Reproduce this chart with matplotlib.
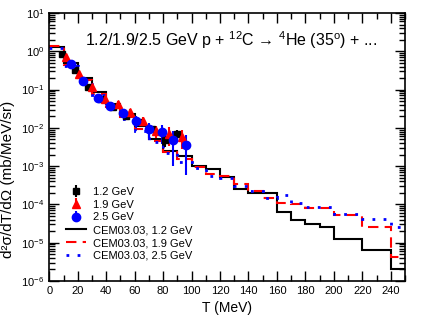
import matplotlib
matplotlib.use('Agg')
import matplotlib.pyplot as plt
from matplotlib.ticker import MultipleLocator, LogLocator, LogFormatterMathtext, NullFormatter

plt.rcParams['font.family'] = ['Liberation Sans', 'DejaVu Sans']
plt.rcParams['mathtext.fontset'] = 'custom'
plt.rcParams['mathtext.rm'] = 'Liberation Sans'
plt.rcParams['mathtext.it'] = 'Liberation Sans:italic'
plt.rcParams['mathtext.bf'] = 'Liberation Sans:bold'

# bordas dos bins do CEM (MeV)
bordas = [0, 10, 20, 30, 40, 50, 60, 70, 80, 90, 100, 110, 120, 130, 140, 150,
          160, 170, 180, 190, 200, 210, 220, 230, 240, 250]

cem_12 = [1.3, 0.5, 0.2, 0.085, 0.042, 0.023, 0.011, 0.005, 0.0025, 0.0018,
          1.03e-3, 8.5e-4, 5.3e-4, 2.6e-4, 2.0e-4, 2.0e-4, 6.5e-5, 4.0e-5, 3.1e-5, 2.5e-5,
          1.25e-5, 1.25e-5, 6.5e-6, 6.5e-6, 2.1e-6]
cem_19 = [1.35, 0.45, 0.18, 0.075, 0.036, 0.019, 0.0095, 0.0045, 0.0024, 0.0015,
          9.3e-4, 6.3e-4, 5.5e-4, 3.5e-4, 2.2e-4, 1.5e-4, 1.07e-4, 1.05e-4, 8.0e-5, 8.0e-5,
          5.3e-5, 5.3e-5, 2.5e-5, 2.5e-5, 4.2e-6]
cem_25 = [1.2, 0.42, 0.16, 0.07, 0.033, 0.017, 0.0085, 0.0042, 0.0022, 0.0013,
          8.9e-4, 5.5e-4, 4.8e-4, 3.0e-4, 2.2e-4, 1.45e-4, 1.8e-4, 1.1e-4, 8.7e-5, 8.7e-5,
          5.6e-5, 5.6e-5, 4.1e-5, 4.1e-5, 2.6e-5]

# dados experimentais
t_12 = [9, 18, 27, 36, 45, 54, 63, 72, 81, 90]
y_12 = [0.83, 0.33, 0.12, 0.055, 0.036, 0.021, 0.0138, 0.0093, 0.0047, 0.0069]
e_12 = [0.08, 0.03, 0.012, 0.006, 0.005, 0.003, 0.0025, 0.002, 0.0015, 0.002]

t_19 = [12, 21, 30, 39, 48, 57, 66, 75, 84, 93]
y_19 = [0.69, 0.26, 0.12, 0.058, 0.042, 0.026, 0.0155, 0.0085, 0.0069, 0.0058]
e_19 = [0.07, 0.026, 0.012, 0.009, 0.007, 0.005, 0.004, 0.003, 0.0035, 0.003]

t_25 = [15, 24, 34, 43, 52, 61, 70, 79, 87, 96]
y_25 = [0.46, 0.17, 0.06, 0.038, 0.0245, 0.015, 0.0094, 0.0078, 0.0047, 0.0035]
e_25 = [0.05, 0.02, 0.008, 0.006, 0.005, 0.005, 0.004, 0.004, 0.0037, 0.0029]

fig = plt.figure(figsize=(4.23, 3.27), dpi=100)
ax = fig.add_axes([0.1165, 0.1407, 0.841, 0.8196])

ax.stairs(cem_12, bordas, baseline=None, color='black', lw=1.5, label='CEM03.03, 1.2 GeV')
ax.stairs(cem_19, bordas, baseline=None, color='red', lw=1.5, linestyle=(0, (5, 3)),
          label='CEM03.03, 1.9 GeV')
ax.stairs(cem_25, bordas, baseline=None, color='blue', lw=2, linestyle=(0, (1, 3)),
          label='CEM03.03, 2.5 GeV')

ax.errorbar(t_12, y_12, yerr=e_12, fmt='s', color='black', ms=5, elinewidth=1.5,
            capsize=0, label='1.2 GeV', zorder=5)
ax.errorbar(t_19, y_19, yerr=e_19, fmt='^', color='red', ms=6, elinewidth=1.5,
            capsize=0, label='1.9 GeV', zorder=5)
ax.errorbar(t_25, y_25, yerr=e_25, fmt='o', color='blue', ms=6, elinewidth=1.5,
            capsize=0, label='2.5 GeV', zorder=5)

ax.set_yscale('log')
ax.set_xlim(0, 250)
ax.set_ylim(1e-6, 10)

ax.xaxis.set_major_locator(MultipleLocator(20))
ax.xaxis.set_minor_locator(MultipleLocator(10))
ax.yaxis.set_major_locator(LogLocator(base=10, numticks=20))
ax.yaxis.set_minor_locator(LogLocator(base=10, subs=range(2, 10), numticks=20))
ax.yaxis.set_major_formatter(LogFormatterMathtext())
ax.yaxis.set_minor_formatter(NullFormatter())
ax.tick_params(which='both', direction='in', top=True, right=True, labelsize=8, width=1)
ax.tick_params(which='major', length=7)
ax.tick_params(which='minor', length=4)
for s in ax.spines.values():
    s.set_linewidth(1.2)

ax.set_xlabel('T (MeV)', fontsize=10)
ax.set_ylabel('d²σ/dT/dΩ (mb/MeV/sr)', fontsize=11)
ax.yaxis.set_label_coords(-0.095, 0.38)

ax.text(0.51, 0.9, '1.2/1.9/2.5 GeV p + $^{12}$C → $^{4}$He (35$^{\\rm o}$) + ...',
        transform=ax.transAxes, ha='center', va='center', fontsize=11.5)

h, l = ax.get_legend_handles_labels()
ordem = [3, 4, 5, 0, 1, 2]
ax.legend([h[i] for i in ordem], [l[i] for i in ordem], loc='upper left',
          bbox_to_anchor=(0.025, 0.38), frameon=False, fontsize=8, handlelength=1.8,
          handletextpad=0.6, labelspacing=0.25, borderaxespad=0.3)

fig.savefig('out.png', dpi=100)
